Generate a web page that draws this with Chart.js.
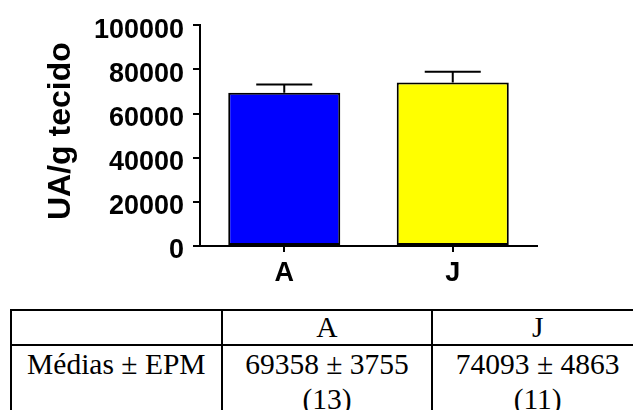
<!DOCTYPE html>
<html>
<head>
<meta charset="utf-8">
<script src="https://cdn.jsdelivr.net/npm/chart.js@4/dist/chart.umd.min.js"></script>
<style>
  html, body { margin: 0; padding: 0; background: #fff; width: 633px; height: 410px; overflow: hidden; }
  #wrap { position: absolute; left: 0; top: 0; width: 633px; height: 300px; }
  #stats {
    position: absolute; left: 10px; top: 309px; width: 634px;
    border-collapse: collapse; table-layout: fixed;
    font-family: "Liberation Serif", "Times New Roman", serif; font-size: 29.5px;
  }
  #stats td { border: 2px solid #000; padding: 0; text-align: center; vertical-align: top; }
  #stats tr:first-child td { line-height: 33px; }
  #stats tr:last-child td { line-height: 35px; padding-top: 1px; }
</style>
</head>
<body>
<div id="wrap"><canvas id="chart" width="633" height="300"></canvas></div>
<table id="stats"></table>
<script>
// --- data ---
const groups = ['A', 'J'];
const means = [69358, 74093];
const sems = [3755, 4863];
const counts = [13, 11];
const barColors = ['#0000ff', '#ffff00'];
const yTicks = [0, 20000, 40000, 60000, 80000, 100000];
const rowLabel = 'Médias ± EPM';

// --- error bars (upper only) ---
const errorBars = {
    id: 'errorBars',
    afterDatasetsDraw(chart) {
        const ctx = chart.ctx;
        const y = chart.scales.y;
        ctx.save();
        ctx.strokeStyle = '#000';
        ctx.lineWidth = 2;
        chart.getDatasetMeta(0).data.forEach((bar, i) => {
            const top = y.getPixelForValue(means[i] + sems[i]);
            const half = bar.width / 4;
            ctx.beginPath();
            ctx.moveTo(bar.x, bar.y);
            ctx.lineTo(bar.x, top);
            ctx.moveTo(bar.x - half, top);
            ctx.lineTo(bar.x + half, top);
            ctx.stroke();
        });
        ctx.restore();
    }
};

const axisFont = { family: '"Liberation Sans", Arial, sans-serif', weight: 'bold' };

new Chart(document.getElementById('chart').getContext('2d'), {
    type: 'bar',
    data: {
        labels: groups,
        datasets: [{
            data: means,
            backgroundColor: barColors,
            borderColor: '#000',
            borderWidth: 2,
            borderSkipped: false,
            categoryPercentage: 1,
            barPercentage: 0.665
        }]
    },
    plugins: [errorBars],
    options: {
        responsive: false,
        animation: false,
        layout: { padding: { top: 22, right: 96, left: 0, bottom: 0 } },
        plugins: { legend: { display: false }, tooltip: { enabled: false } },
        scales: {
            x: {
                afterFit: s => { s.height = 54; },
                border: { color: '#000', width: 2 },
                grid: { offset: false, drawOnChartArea: false, drawTicks: true, tickLength: 6, color: '#000', lineWidth: 2 },
                ticks: { color: '#000', padding: 5, font: { ...axisFont, size: 27 } }
            },
            y: {
                min: 0,
                max: 100000,
                afterFit: s => { s.width = 200; },
                afterBuildTicks: s => { s.ticks = yTicks.map(v => ({ value: v })); },
                border: { color: '#000', width: 2 },
                grid: { drawOnChartArea: false, drawTicks: true, tickLength: 7, color: '#000', lineWidth: 2 },
                ticks: { color: '#000', padding: 9, labelOffset: 5, font: { ...axisFont, size: 27 }, callback: v => String(v) },
                // leading space nudges the title up a little, as in the original
                title: { display: true, text: ' UA/g tecido', color: '#000', padding: { top: 42, bottom: 0 }, font: { ...axisFont, size: 32 } }
            }
        }
    }
});

// --- table under the chart ---
const table = document.getElementById('stats');
const head = table.insertRow();
head.insertCell().innerHTML = '&nbsp;';
groups.forEach(g => { head.insertCell().textContent = g; });
const row = table.insertRow();
row.insertCell().textContent = rowLabel;
groups.forEach((g, i) => {
    row.insertCell().innerHTML = `${means[i]} ± ${sems[i]}<br>(${counts[i]})`;
});
</script>
</body>
</html>
